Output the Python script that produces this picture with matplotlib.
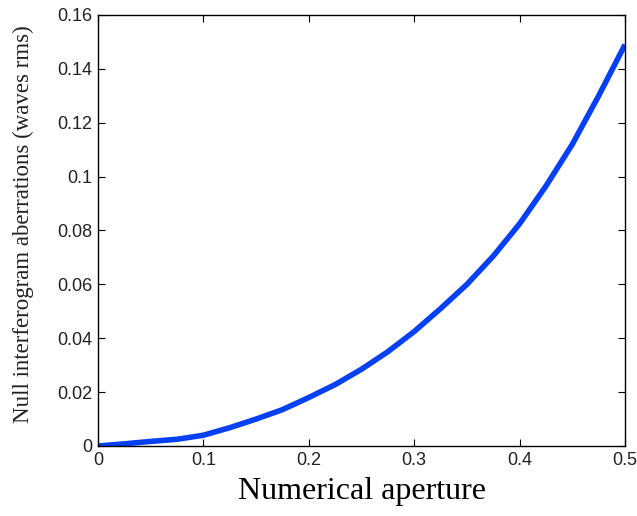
import matplotlib
matplotlib.use("Agg")
import matplotlib.pyplot as plt

na = [0.0, 0.025, 0.05, 0.075, 0.1, 0.125, 0.15, 0.175, 0.2, 0.225, 0.25,
      0.275, 0.3, 0.325, 0.35, 0.375, 0.4, 0.425, 0.45, 0.475, 0.5]
aberr = [0.0, 0.0008, 0.0017, 0.0025, 0.0040, 0.0068, 0.0100, 0.0135, 0.0180,
         0.0228, 0.0285, 0.0350, 0.0425, 0.0510, 0.0600, 0.0705, 0.0825,
         0.0965, 0.112, 0.130, 0.149]
xticks = [0, 0.1, 0.2, 0.3, 0.4, 0.5]
xticklabels = ["0", "0.1", "0.2", "0.3", "0.4", "0.5"]
yticks = [0, 0.02, 0.04, 0.06, 0.08, 0.1, 0.12, 0.14, 0.16]
yticklabels = ["0", "0.02", "0.04", "0.06", "0.08", "0.1", "0.12", "0.14", "0.16"]

fig = plt.figure(figsize=(6.37, 5.16), dpi=100)
ax = fig.add_axes([98/637, 1 - 446/516, 527/637, 431/516])
ax.plot(na, aberr, color="#0640f5", lw=4.0, solid_capstyle="butt")
ax.set_xlim(0, 0.5)
ax.set_ylim(0, 0.16)
ax.set_xticks(xticks)
ax.set_xticklabels(xticklabels, family="Liberation Sans", fontsize=13, color="#222222")
ax.set_yticks(yticks)
ax.set_yticklabels(yticklabels, family="Liberation Sans", fontsize=13, color="#222222")
ax.tick_params(direction="in", top=True, right=True, length=5, width=0.8, pad=4)
for s in ax.spines.values():
    s.set_linewidth(1.0)
ax.set_xlabel("Numerical aperture", family="Liberation Serif", fontsize=23, labelpad=6)
ax.set_ylabel("Null interferogram aberrations (waves rms)", family="Liberation Serif",
              fontsize=16.5, color="#222222")
ax.yaxis.set_label_coords(-0.122, 0.515)
fig.savefig("out.png", dpi=100)
